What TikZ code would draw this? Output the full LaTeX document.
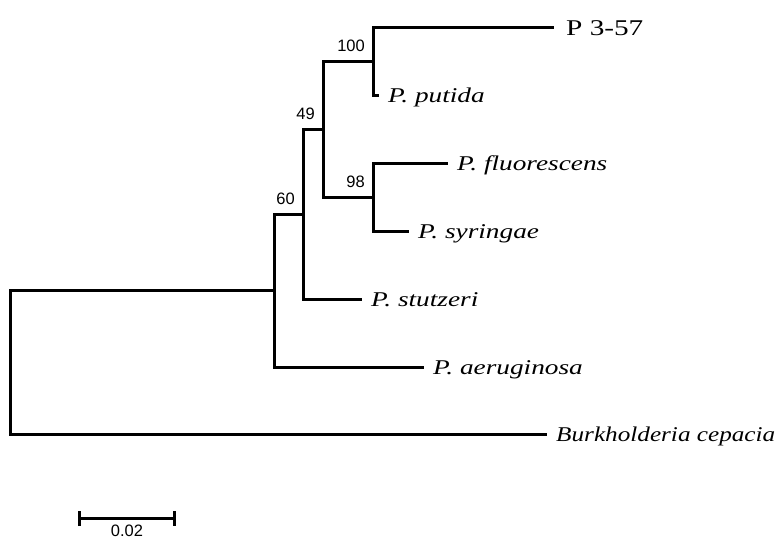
\documentclass[tikz,border=0pt]{standalone}
\usepackage{fontspec}
\setmainfont{Liberation Serif}[FakeStretch=1.2]
\newfontfamily\widefont{Liberation Serif}[FakeStretch=1.3]
\newfontfamily\bootfont{Liberation Sans}
\usetikzlibrary{arrows.meta}

\begin{document}
\begin{tikzpicture}[x=1pt, y=-1pt,
      branch/.style={draw, line width=2.6pt, line join=miter},
      every node/.append style={inner sep=0pt}]
    \tikzstyle{taxon} = [anchor=west, inner xsep=9pt, text height=14pt, text depth=0pt,
      font=\fontsize{21}{21}\widefont\itshape]
    \tikzstyle{outgroup} = [taxon, font=\fontsize{21}{21}\selectfont\itshape]
    \tikzstyle{strain} = [taxon, inner xsep=12pt, text height=15pt, font=\fontsize{22.5}{22.5}\widefont]
    \tikzstyle{boot} = [anchor=south east, font=\fontsize{16.5}{16.5}\bootfont]
    \useasboundingbox (0,0) rectangle (781,542);
    % internal nodes
    \coordinate (ROOT) at (10.5,362.5);
    \coordinate (pseudo) at (274.5,290.5);
    \coordinate (n60) at (303.5,214.5);
    \coordinate (n49) at (323.5,129.5);
    \coordinate (n100) at (373.5,61.5);
    \coordinate (n98) at (373.5,197.5);
    % tips
    \node [strain] (p357) at (554,27.5) {P 3-57};
    \node [taxon] (putida) at (379,95.5) {P. putida};
    \node [taxon] (fluor) at (448,163.5) {P. fluorescens};
    \node [taxon] (syring) at (409,231.5) {P. syringae};
    \node [taxon] (stutz) at (362,299.5) {P. stutzeri};
    \node [taxon] (aerug) at (424,367.5) {P. aeruginosa};
    \node [outgroup] (burk) at (547,434.5) {Burkholderia cepacia};
    % branches
    \draw [branch] (ROOT) |- (pseudo);
    \draw [branch] (ROOT) |- (burk.west);
    \draw [branch] (pseudo) |- (n60);
    \draw [branch] (pseudo) |- (aerug.west);
    \draw [branch] (n60) |- (n49);
    \draw [branch] (n60) |- (stutz.west);
    \draw [branch] (n49) |- (n100);
    \draw [branch] (n49) |- (n98);
    \draw [branch] (n100) |- (p357.west);
    \draw [branch] (n100) |- (putida.west);
    \draw [branch] (n98) |- (fluor.west);
    \draw [branch] (n98) |- (syring.west);
    % bootstrap values
    \node [boot] (b100) at ([shift={(-8.5,-10)}]n100) {100};
    \node [boot] (b98) at ([shift={(-8.5,-10)}]n98) {98};
    \node [boot] (b49) at ([shift={(-8.5,-10)}]n49) {49};
    \node [boot] (b60) at ([shift={(-8.5,-10)}]n60) {60};
    % scale bar
    \coordinate (sbleft) at (78,518.5);
    \coordinate (sbright) at (176,518.5);
    \draw [branch, {Bar[width=15pt]}-{Bar[width=15pt]}] (sbleft) -- (sbright);
    \node [boot, anchor=north] (sbtext) at (127,525) {0.02};
\end{tikzpicture}
\end{document}
